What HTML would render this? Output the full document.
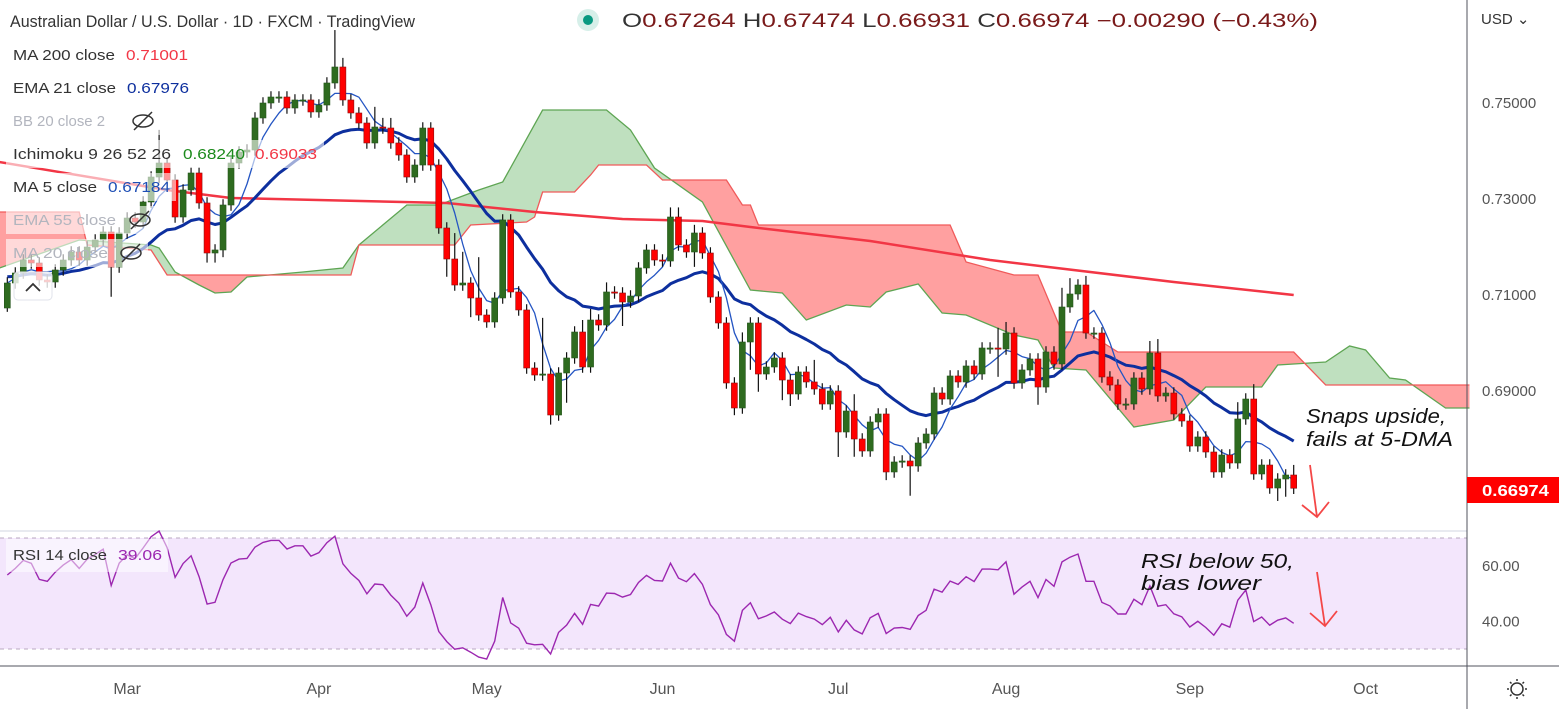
<!DOCTYPE html>
<html><head><meta charset="utf-8"><title>AUD/USD 1D</title>
<style>
html,body{margin:0;padding:0;background:#fff;}
svg{display:block;font-family:"Liberation Sans",sans-serif;}
</style></head>
<body>
<svg id="chart" width="1559" height="709" viewBox="0 0 1559 709" xmlns="http://www.w3.org/2000/svg">
  <rect x="0" y="0" width="1559" height="709" fill="#fff"/>
  <g id="cloud"></g>
  <g id="lines"></g>
  <g id="candles"></g>
  <line x1="0" y1="531" x2="1467" y2="531" stroke="#e0e3eb" stroke-width="1.5"/>
  <rect x="0" y="538" width="1467" height="111" fill="#f3e6fc"/>
  <line x1="0" y1="538" x2="1467" y2="538" stroke="#b8a8c0" stroke-dasharray="4,4"/>
  <line x1="0" y1="649" x2="1467" y2="649" stroke="#b8a8c0" stroke-dasharray="4,4"/>
  <g id="rsi"></g>
  <line x1="1467" y1="0" x2="1467" y2="709" stroke="#50535e" stroke-width="1"/>
  <line x1="0" y1="666" x2="1559" y2="666" stroke="#50535e" stroke-width="1"/>
  <g id="axes" fill="#555" font-size="15"></g>
  <text x="10" y="27" font-size="17" fill="#333" textLength="405" lengthAdjust="spacingAndGlyphs">Australian Dollar / U.S. Dollar · 1D · FXCM · TradingView</text>
  <circle cx="588" cy="20" r="11" fill="#d6efe9"/>
  <circle cx="588" cy="20" r="5" fill="#089981"/>
  <text x="622" y="27" font-size="19" fill="#7a1a1a" textLength="696" lengthAdjust="spacingAndGlyphs"><tspan fill="#333">O</tspan>0.67264 <tspan fill="#333">H</tspan>0.67474 <tspan fill="#333">L</tspan>0.66931 <tspan fill="#333">C</tspan>0.66974 −0.00290 (−0.43%)</text>
  <text x="1481" y="24" font-size="15" fill="#333">USD ⌄</text>
  <g id="legend" font-size="15">
    <rect x="6" y="41" width="188" height="28" fill="#fff" fill-opacity="0.6"/>
    <text x="13" y="60" fill="#333" textLength="102" lengthAdjust="spacingAndGlyphs">MA 200 close</text>
    <text x="126" y="60" fill="#f23645" textLength="62" lengthAdjust="spacingAndGlyphs">0.71001</text>
    <rect x="6" y="74" width="190" height="28" fill="#fff" fill-opacity="0.6"/>
    <text x="13" y="93" fill="#333" textLength="103" lengthAdjust="spacingAndGlyphs">EMA 21 close</text>
    <text x="127" y="93" fill="#0d2f9e" textLength="62" lengthAdjust="spacingAndGlyphs">0.67976</text>
    <rect x="6" y="107" width="155" height="28" fill="#fff" fill-opacity="0.6"/>
    <text x="13" y="126" fill="#b2b5be" textLength="92" lengthAdjust="spacingAndGlyphs">BB 20 close 2</text>
    <g stroke="#333" stroke-width="1.5" fill="none"><ellipse cx="143" cy="121" rx="10" ry="6"/><line x1="134" y1="130" x2="152" y2="112"/></g>
    <rect x="6" y="140" width="318" height="28" fill="#fff" fill-opacity="0.6"/>
    <text x="13" y="159" fill="#333" textLength="158" lengthAdjust="spacingAndGlyphs">Ichimoku 9 26 52 26</text>
    <text x="183" y="159" fill="#1b8a1b" textLength="62" lengthAdjust="spacingAndGlyphs">0.68240</text>
    <text x="255" y="159" fill="#f23645" textLength="62" lengthAdjust="spacingAndGlyphs">0.69033</text>
    <rect x="6" y="173" width="170" height="28" fill="#fff" fill-opacity="0.6"/>
    <text x="13" y="192" fill="#333" textLength="84" lengthAdjust="spacingAndGlyphs">MA 5 close</text>
    <text x="108" y="192" fill="#1e4fb5" textLength="62" lengthAdjust="spacingAndGlyphs">0.67184</text>
    <rect x="6" y="206" width="150" height="28" fill="#fff" fill-opacity="0.6"/>
    <text x="13" y="225" fill="#b2b5be" textLength="103" lengthAdjust="spacingAndGlyphs">EMA 55 close</text>
    <g stroke="#333" stroke-width="1.5" fill="none"><ellipse cx="140" cy="220" rx="10" ry="6"/><line x1="131" y1="229" x2="149" y2="211"/></g>
    <rect x="6" y="239" width="142" height="28" fill="#fff" fill-opacity="0.6"/>
    <text x="13" y="258" fill="#b2b5be" textLength="95" lengthAdjust="spacingAndGlyphs">MA 20 close</text>
    <g stroke="#333" stroke-width="1.5" fill="none"><ellipse cx="131" cy="253" rx="10" ry="6"/><line x1="122" y1="262" x2="140" y2="244"/></g>
    <rect x="14" y="272" width="38" height="28" rx="4" fill="#fff" fill-opacity="0.8" stroke="#e0e3eb"/>
    <polyline points="26,291 33,284 40,291" fill="none" stroke="#333" stroke-width="1.8"/>
  </g>
  <rect x="6" y="539" width="162" height="33" fill="#fff" fill-opacity="0.5"/>
  <text x="13" y="560" font-size="15" fill="#333" textLength="94" lengthAdjust="spacingAndGlyphs">RSI 14 close</text>
  <text x="118" y="560" font-size="15" fill="#9c27b0" textLength="44" lengthAdjust="spacingAndGlyphs">39.06</text>
  <rect x="1467" y="477" width="92" height="26" fill="#ff0000"/>
  <text x="1482" y="496" font-size="16" font-weight="bold" fill="#fff" textLength="67" lengthAdjust="spacingAndGlyphs">0.66974</text>
  <g font-style="italic" font-size="20" fill="#111">
    <text x="1306" y="423" textLength="140" lengthAdjust="spacingAndGlyphs">Snaps upside,</text>
    <text x="1306" y="446" textLength="147" lengthAdjust="spacingAndGlyphs">fails at 5-DMA</text>
  </g>
  <g font-style="italic" font-size="20" fill="#111">
    <text x="1141" y="568" textLength="153" lengthAdjust="spacingAndGlyphs">RSI below 50,</text>
    <text x="1141" y="590" textLength="120" lengthAdjust="spacingAndGlyphs">bias lower</text>
  </g>
  <g stroke="#f44747" stroke-width="1.8" fill="none">
    <line x1="1310" y1="465" x2="1317" y2="517"/><polyline points="1302,505 1317,517 1329,502"/>
  </g>
  <g stroke="#f44747" stroke-width="1.8" fill="none">
    <line x1="1317" y1="572" x2="1325" y2="626"/><polyline points="1310,613 1325,626 1337,611"/>
  </g>
  <g stroke="#333" stroke-width="1.5" fill="none">
    <circle cx="1517" cy="689" r="6"/>
    <line x1="1517" y1="679" x2="1517" y2="681"/><line x1="1517" y1="697" x2="1517" y2="699"/>
    <line x1="1507" y1="689" x2="1509" y2="689"/><line x1="1525" y1="689" x2="1527" y2="689"/>
    <line x1="1510" y1="682" x2="1511.5" y2="683.5"/><line x1="1522.5" y1="694.5" x2="1524" y2="696"/>
    <line x1="1524" y1="682" x2="1522.5" y2="683.5"/><line x1="1511.5" y1="694.5" x2="1510" y2="696"/>
  </g>
</svg>
<script>
const closes = [
0.71250,0.71458,0.71729,0.71667,0.71313,0.71271,0.71521,0.71729,0.71896,0.71729,
0.72000,0.72146,0.72313,0.71583,0.72292,0.72604,0.72521,0.72938,0.73458,0.73750,
0.73396,0.72625,0.73188,0.73542,0.72917,0.71875,0.71938,0.72875,0.73750,0.73979,
0.74021,0.74688,0.75000,0.75125,0.75125,0.74896,0.75063,0.75063,0.74813,0.74958,
0.75417,0.75750,0.75063,0.74792,0.74583,0.74167,0.74500,0.74479,0.74167,0.73917,
0.73458,0.73708,0.74479,0.73708,0.72396,0.71750,0.71208,0.71250,0.70938,0.70583,
0.70438,0.70938,0.72563,0.71063,0.70688,0.69479,0.69333,0.69354,0.68500,0.69375,
0.69688,0.70229,0.69500,0.70479,0.70375,0.71063,0.71042,0.70854,0.70979,0.71563,
0.71938,0.71729,0.71708,0.72625,0.72042,0.71896,0.72292,0.71875,0.70958,0.70417,
0.69167,0.68646,0.70021,0.70417,0.69354,0.69500,0.69688,0.69229,0.68938,0.69396,
0.69188,0.69042,0.68729,0.69000,0.68146,0.68583,0.68000,0.67750,0.68354,0.68521,
0.67313,0.67521,0.67542,0.67438,0.67917,0.68104,0.68958,0.68833,0.69313,0.69188,
0.69521,0.69354,0.69896,0.69896,0.69875,0.70208,0.69167,0.69438,0.69667,0.69083,
0.69813,0.69563,0.70750,0.71021,0.71208,0.70208,0.70208,0.69292,0.69125,0.68729,
0.68729,0.69271,0.69042,0.69792,0.68896,0.68958,0.68521,0.68375,0.67854,0.68042,
0.67729,0.67313,0.67667,0.67500,0.68417,0.68833,0.67271,0.67458,0.66979,0.67167,
0.67250,0.66974];
const firstOpen = 0.70729;
const wickUpPips = [
12,12,12,12,12,12,12,12,12,12, 12,12,12,12,12,12,12,12,12,69,
12,12,12,12,12,12,12,12,12,12, 12,12,12,12,12,12,12,12,12,12,
12,77,19,12,12,12,42,19,21,12, 12,12,12,12,12,12,54,65,12,85,
12,12,12,12,12,12,12,117,12,12, 12,12,25,23,12,20,12,12,12,12,
12,12,12,20,20,12,17,12,12,12, 12,12,20,12,12,12,12,12,12,12,
12,46,12,12,12,12,35,12,12,12, 12,12,12,12,12,12,12,12,12,12,
12,12,12,12,42,23,12,12,12,12, 12,12,40,33,12,19,12,12,12,12,
12,12,12,25,29,12,12,12,12,12, 12,12,12,12,35,12,31,12,12,12,
12,21];
const wickDnPips = [
8,12,12,12,12,12,12,12,12,12, 12,12,12,62,12,12,12,12,12,12,
12,12,12,12,12,20,20,15,12,12, 12,12,12,12,12,12,12,12,12,12,
12,12,12,12,12,12,12,12,12,12, 12,12,12,12,12,37,12,12,40,12,
12,12,12,12,12,12,12,12,20,12, 62,12,12,12,12,12,12,50,12,12,
12,12,12,12,12,12,31,12,12,12, 12,15,12,58,37,12,12,42,25,12,
12,12,12,12,52,12,37,12,12,12, 17,12,12,62,12,12,12,12,12,12,
12,12,12,12,58,12,12,12,12,37, 12,12,12,12,12,12,12,12,12,12,
12,12,12,12,12,12,12,12,12,12, 12,12,12,12,12,12,12,12,12,27,
37,12];
const ma200Idx = [0,20,28,55,66,77,87,93,108,123,146,161];
const ma200Val = [0.73771,0.73188,0.73021,0.72917,0.72729,0.72583,0.72542,0.72417,0.72125,0.71729,0.71271,0.71000];
const spanAIdx = [-1,9,18,19,21,24,26,28,30,37,42,44,47,50,54,59,62,67,75,78,81,87,93,97,100,105,108,110,114,117,120,126,129,131,135,141,146,150,157,159,165,168,170,173,175,180,183];
const spanAVal = [0.71563,0.72146,0.72042,0.71979,0.71479,0.71208,0.71042,0.71063,0.71375,0.71479,0.71563,0.72042,0.72458,0.72875,0.72875,0.73188,0.73354,0.74854,0.74854,0.74438,0.73646,0.72938,0.71104,0.71042,0.70479,0.70792,0.70750,0.71063,0.71229,0.70625,0.70583,0.70167,0.70063,0.69479,0.69438,0.68250,0.68396,0.69083,0.69083,0.69542,0.69604,0.69938,0.69854,0.69271,0.69229,0.68646,0.68646];
const spanBIdx = [-1,9,10,18,20,43,44,56,58,65,66,67,71,73,74,80,82,90,92,93,94,118,120,126,129,132,135,139,161,165,183];
const spanBVal = [0.72729,0.72729,0.72042,0.71938,0.71417,0.71417,0.72042,0.72042,0.72458,0.72521,0.72625,0.73146,0.73146,0.73500,0.73708,0.73708,0.73396,0.73396,0.72875,0.72875,0.72458,0.72458,0.71688,0.71417,0.71417,0.70229,0.70229,0.69813,0.69813,0.69125,0.69125];
const priceTicks = [0.75, 0.73, 0.71, 0.69];
const priceTickLabels = ["0.75000","0.73000","0.71000","0.69000"];
const rsiTicks = [60, 40];
const rsiTickLabels = ["60.00","40.00"];
const monthIdx = [15,39,60,82,104,125,148,170];
const monthLabels = ["Mar","Apr","May","Jun","Jul","Aug","Sep","Oct"];
const emaSeed = 0.7138;
const rsiSeedGain = 0.0013, rsiSeedLoss = 0.0013;

const NS = "http://www.w3.org/2000/svg";
function X(i){ return 7.3 + 7.99 * i; }
function Y(p){ return 103 + (0.75 - p) * 4800; }
function RY(v){ return 538 + (70 - v) * (111 / 40); }
function mk(tag, attrs, parent){ const e = document.createElementNS(NS, tag); for (const k in attrs) e.setAttribute(k, attrs[k]); parent.appendChild(e); return e; }

const gC = document.getElementById('candles');
for (let i = 0; i < closes.length; i++) {
  const o = i === 0 ? firstOpen : closes[i-1];
  const c = closes[i];
  const hi = Math.max(o, c) + wickUpPips[i] * 0.0001;
  const lo = Math.min(o, c) - wickDnPips[i] * 0.0001;
  const up = c >= o;
  const x = X(i);
  const w = mk('line', {x1:x, x2:x, y1:Y(hi), y2:Y(lo), stroke:'#111', 'stroke-width':1.2}, gC);
  
  
  const top = Y(Math.max(o, c)), bot = Y(Math.min(o, c));
  const b = mk('rect', {x:x-3, y:top, width:6, height:Math.max(1.2, bot-top), fill: up ? '#2e6b1f' : '#ff0000', stroke: up ? '#24551a' : '#8b1010', 'stroke-width':0.6}, gC);
  
  
}

const gL = document.getElementById('lines');
function polyline(pts, color, width, name){
  const p = mk('polyline', {points: pts.map(q => q[0].toFixed(1)+','+q[1].toFixed(1)).join(' '), fill:'none', stroke:color, 'stroke-width':width, 'stroke-linejoin':'round'}, gL);
  
  
  return p;
}
polyline(ma200Idx.map((ix, k) => [X(ix) - (k === 0 ? 8 : 0), Y(ma200Val[k])]), '#f23645', 2.5, 'ma200-line');
const ema = []; let e = emaSeed;
for (let i = 0; i < closes.length; i++) { if (i > 0) e = e + (closes[i] - e) * 2 / 22; ema.push(e); }
polyline(ema.map((v, i) => [X(i), Y(v)]), '#0d2f9e', 3, 'ema21-line');
const ma5 = closes.map((c, i) => { const s = closes.slice(Math.max(0, i-4), i+1); return s.reduce((a, b) => a + b, 0) / s.length; });
polyline(ma5.map((v, i) => [X(i), Y(v)]), '#2455c3', 1.3, 'ma5-line');

const gK = document.getElementById('cloud');
const defs = mk('defs', {}, gK);
const aPts = spanAIdx.map((ix, k) => [X(ix), Y(spanAVal[k])]);
const bPts = spanBIdx.map((ix, k) => [X(ix), Y(spanBVal[k])]);
const P = pts => pts.map(q => q[0].toFixed(1)+','+q[1].toFixed(1)).join(' ');
const xmin = X(-1), xmax = X(183);
const cpA = mk('clipPath', {id:'aboveB'}, defs);
mk('polygon', {points: P(bPts) + ' ' + xmax + ',0 ' + xmin + ',0'}, cpA);
const cpB = mk('clipPath', {id:'belowB'}, defs);
mk('polygon', {points: P(bPts) + ' ' + xmax + ',709 ' + xmin + ',709'}, cpB);
const band = P(aPts) + ' ' + P(bPts.slice().reverse());
const gf = mk('polygon', {points: band, fill:'#bfe0bf', 'clip-path':'url(#aboveB)'}, gK);


const rf = mk('polygon', {points: band, fill:'#ffa0a0', 'clip-path':'url(#belowB)'}, gK);


const la = mk('polyline', {points: P(aPts), fill:'none', stroke:'#5ea553', 'stroke-width':1.3}, gK);


const lb = mk('polyline', {points: P(bPts), fill:'none', stroke:'#f05a5a', 'stroke-width':1.3}, gK);



const rsi = []; let ag = rsiSeedGain, al = rsiSeedLoss;
for (let i = 0; i < closes.length; i++) {
  const prev = i === 0 ? firstOpen : closes[i-1];
  const d = closes[i] - prev;
  ag = (ag * 13 + Math.max(d, 0)) / 14;
  al = (al * 13 + Math.max(-d, 0)) / 14;
  rsi.push(100 - 100 / (1 + ag / (al || 1e-9)));
}
const gR = document.getElementById('rsi');
const rl = mk('polyline', {points: rsi.map((v, i) => X(i).toFixed(1)+','+RY(v).toFixed(1)).join(' '), fill:'none', stroke:'#9c27b0', 'stroke-width':1.4}, gR);



const gA = document.getElementById('axes');
priceTicks.forEach((p, k) => {
  const t = mk('text', {x:1482, y:Y(p)+5, 'font-size':15, fill:'#555'}, gA);
  t.textContent = priceTickLabels[k];
  
  
});
rsiTicks.forEach((v, k) => {
  const t = mk('text', {x:1482, y:RY(v)+5, 'font-size':15, fill:'#555'}, gA);
  t.textContent = rsiTickLabels[k];
  
  
});
monthIdx.forEach((ix, k) => {
  const t = mk('text', {x:X(ix), y:694, 'font-size':16, fill:'#555', 'text-anchor':'middle'}, gA);
  t.textContent = monthLabels[k];
  
  
});
</script>
</body></html>
